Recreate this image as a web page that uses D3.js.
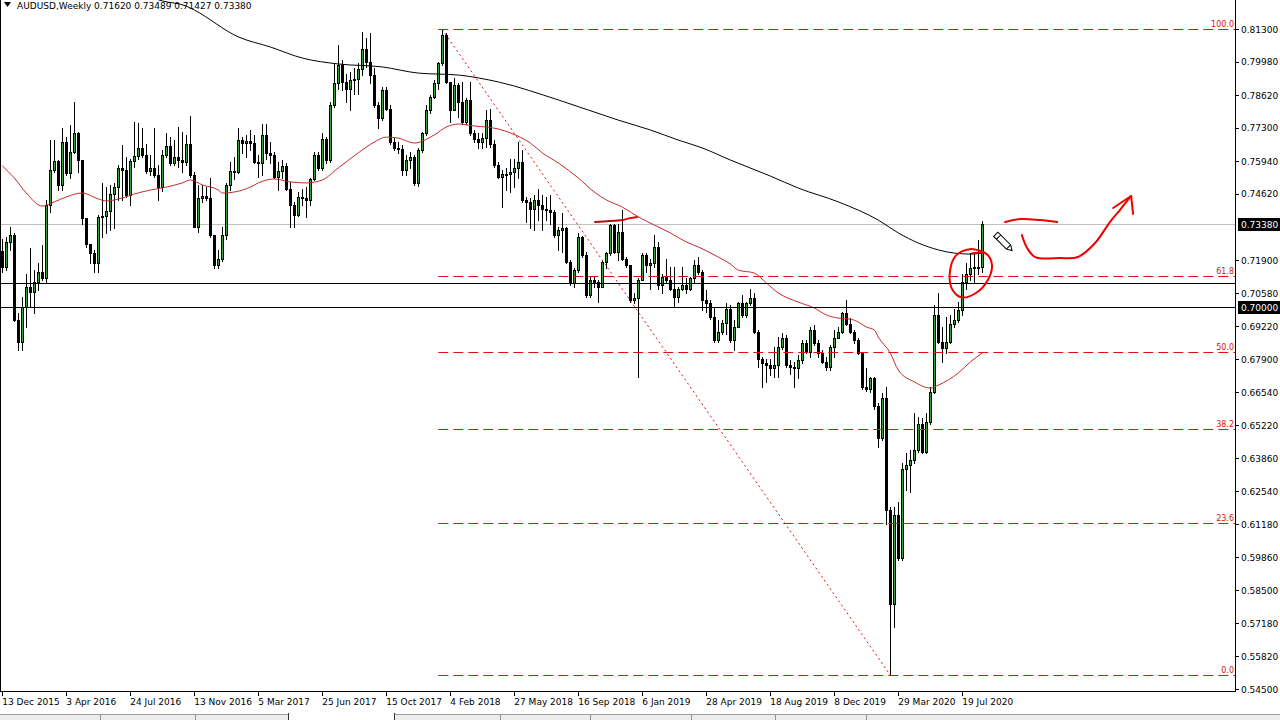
<!DOCTYPE html>
<html><head><meta charset="utf-8">
<script src="https://cdn.jsdelivr.net/npm/d3@7"></script>
<style>
html,body{margin:0;padding:0;background:#fff;overflow:hidden}
svg{display:block;font-family:"DejaVu Sans",sans-serif}
</style></head><body>
<svg id="c" width="1280" height="720"></svg>
<script>
const symbol = "AUDUSD,Weekly";
const headerValues = ["0.71620","0.73489","0.71427","0.73380"];

const open = [.7230,.7164,.7266,.7293,.6948,.6860,.7002,.7083,.7063,.7104,
.7144,.7117,.7415,.7557,.7595,.7496,.7672,.7544,.7632,.7706,
.7598,.7361,.7259,.7219,.7178,.7367,.7370,.7392,.7462,.7489,
.7564,.7556,.7456,.7595,.7614,.7645,.7618,.7553,.7564,.7537,
.7489,.7618,.7655,.7584,.7611,.7598,.7591,.7665,.7537,.7327,
.7442,.7451,.7445,.7293,.7171,.7196,.7293,.7496,.7553,.7549,
.7679,.7668,.7676,.7668,.7591,.7584,.7699,.7625,.7620,.7530,
.7555,.7575,.7482,.7415,.7374,.7448,.7444,.7435,.7519,.7618,
.7564,.7685,.7597,.7821,.7909,.7983,.7916,.7888,.7922,.7925,
.7966,.8047,.7997,.7943,.7821,.7767,.7882,.7807,.7672,.7645,
.7641,.7557,.7600,.7611,.7503,.7638,.7706,.7800,.7855,.7909,
.7990,.8105,.7916,.7800,.7902,.7834,.7753,.7841,.7706,.7685,
.7672,.7689,.7760,.7665,.7578,.7530,.7540,.7543,.7550,.7564,
.7591,.7435,.7428,.7401,.7435,.7415,.7401,.7394,.7388,.7293,
.7313,.7320,.7185,.7097,.7151,.7286,.7212,.7050,.7110,.7104,
.7083,.7185,.7219,.7334,.7226,.7307,.7198,.7171,.7029,.7036,
.7110,.7212,.7171,.7178,.7246,.7090,.7124,.7110,.7076,.7043,
.7076,.7090,.7076,.7117,.7171,.7144,.7029,.7018,.6961,.6866,
.6900,.6935,.6995,.6867,.6921,.7016,.6968,.7016,.7036,.6900,
.6792,.6772,.6765,.6752,.6765,.6840,.6874,.6765,.6758,.6752,
.6785,.6853,.6819,.6907,.6853,.6813,.6779,.6758,.6840,.6874,
.6901,.6975,.6934,.6901,.6867,.6813,.6677,.6670,.6711,.6600,
.6470,.6630,.6176,.5797,.6156,.5980,.6345,.6359,.6380,.6420,
.6528,.6413,.6535,.6657,.6968,.6860,.6833,.6860,.6934,.6948,
.6988,.7104,.7137,.7158,.7164,.7162];

const close = [.7164,.7266,.7293,.6948,.6860,.7002,.7083,.7063,.7104,.7144,
.7117,.7415,.7557,.7595,.7496,.7672,.7544,.7632,.7706,.7598,
.7361,.7259,.7219,.7178,.7367,.7370,.7392,.7462,.7489,.7564,
.7556,.7456,.7595,.7614,.7645,.7618,.7553,.7564,.7537,.7489,
.7618,.7655,.7584,.7611,.7598,.7591,.7665,.7537,.7327,.7442,
.7451,.7445,.7293,.7171,.7196,.7293,.7496,.7553,.7549,.7679,
.7668,.7676,.7668,.7591,.7584,.7699,.7625,.7620,.7530,.7555,
.7575,.7482,.7415,.7374,.7448,.7444,.7435,.7519,.7618,.7564,
.7685,.7597,.7821,.7909,.7983,.7916,.7888,.7922,.7925,.7966,
.8047,.7997,.7943,.7821,.7767,.7882,.7807,.7672,.7645,.7641,
.7557,.7600,.7611,.7503,.7638,.7706,.7800,.7855,.7909,.7990,
.8105,.7916,.7800,.7902,.7834,.7753,.7841,.7706,.7685,.7672,
.7689,.7760,.7665,.7578,.7530,.7540,.7543,.7550,.7564,.7591,
.7435,.7428,.7401,.7435,.7415,.7401,.7394,.7388,.7293,.7313,
.7320,.7185,.7097,.7151,.7286,.7212,.7050,.7110,.7104,.7083,
.7185,.7219,.7334,.7226,.7307,.7198,.7171,.7029,.7036,.7110,
.7212,.7171,.7178,.7246,.7090,.7124,.7110,.7076,.7043,.7076,
.7090,.7076,.7117,.7171,.7144,.7029,.7018,.6961,.6866,.6900,
.6935,.6995,.6867,.6921,.7016,.6968,.7016,.7036,.6900,.6792,
.6772,.6765,.6752,.6765,.6840,.6874,.6765,.6758,.6752,.6785,
.6853,.6819,.6907,.6853,.6813,.6779,.6758,.6840,.6874,.6901,
.6975,.6934,.6901,.6867,.6813,.6677,.6670,.6711,.6600,.6470,
.6630,.6176,.5797,.6156,.5980,.6345,.6359,.6380,.6420,.6528,
.6413,.6535,.6657,.6968,.6860,.6833,.6860,.6934,.6948,.6988,
.7104,.7137,.7158,.7164,.7162,.7338];

const high = [.7279,.7286,.7327,.7300,.6975,.7043,.7137,.7239,.7151,.7178,
.7252,.7435,.7679,.7679,.7598,.7726,.7692,.7740,.7835,.7713,
.7598,.7361,.7259,.7232,.7374,.7503,.7489,.7496,.7503,.7577,
.7659,.7611,.7604,.7753,.7747,.7726,.7665,.7618,.7730,.7577,
.7638,.7709,.7692,.7679,.7733,.7713,.7699,.7776,.7550,.7496,
.7496,.7489,.7523,.7293,.7232,.7327,.7503,.7591,.7611,.7726,
.7692,.7699,.7720,.7699,.7618,.7746,.7746,.7672,.7631,.7591,
.7597,.7584,.7509,.7428,.7469,.7482,.7489,.7523,.7631,.7631,
.7706,.7692,.7834,.7990,.8064,.8004,.7949,.7956,.7970,.7990,
.8119,.8092,.8112,.7970,.7834,.7895,.7895,.7821,.7692,.7672,
.7658,.7618,.7631,.7620,.7645,.7712,.7821,.7861,.7922,.7997,
.8128,.8115,.7916,.7929,.7909,.7916,.7848,.7916,.7719,.7706,
.7706,.7800,.7807,.7679,.7591,.7557,.7564,.7604,.7604,.7672,
.7638,.7449,.7442,.7455,.7482,.7455,.7448,.7455,.7395,.7327,
.7381,.7327,.7192,.7158,.7300,.7290,.7226,.7124,.7124,.7110,
.7192,.7226,.7340,.7340,.7340,.7394,.7205,.7171,.7056,.7117,
.7219,.7219,.7198,.7293,.7266,.7137,.7198,.7165,.7165,.7083,
.7164,.7117,.7124,.7192,.7205,.7151,.7070,.7030,.7002,.6948,
.6948,.7016,.7009,.6948,.7022,.7049,.7022,.7076,.7056,.6907,
.6799,.6792,.6792,.6840,.6880,.6894,.6887,.6785,.6779,.6806,
.6867,.6867,.6921,.6928,.6867,.6826,.6799,.6846,.6907,.6921,
.6982,.7029,.6955,.6907,.6874,.6820,.6752,.6718,.6718,.6610,
.6650,.6677,.6190,.6190,.6210,.6366,.6407,.6420,.6569,.6556,
.6549,.6569,.6677,.7009,.7056,.6921,.6961,.6968,.6995,.7022,
.7137,.7178,.7219,.7219,.7273,.7349];

const low = [.7144,.7151,.7232,.6945,.6826,.6826,.6921,.7002,.6975,.7070,
.7110,.7104,.7388,.7550,.7476,.7476,.7537,.7523,.7625,.7550,
.7340,.7246,.7178,.7144,.7144,.7286,.7300,.7313,.7320,.7435,
.7435,.7449,.7415,.7571,.7604,.7611,.7544,.7537,.7527,.7435,
.7473,.7611,.7577,.7577,.7571,.7550,.7577,.7530,.7324,.7307,
.7428,.7435,.7286,.7158,.7160,.7189,.7279,.7476,.7519,.7544,
.7625,.7611,.7640,.7585,.7530,.7536,.7604,.7584,.7525,.7476,
.7523,.7476,.7327,.7327,.7370,.7417,.7367,.7415,.7515,.7557,
.7557,.7584,.7591,.7814,.7888,.7882,.7834,.7800,.7868,.7868,
.7943,.7976,.7909,.7814,.7726,.7760,.7800,.7665,.7638,.7625,
.7536,.7536,.7564,.7496,.7492,.7631,.7699,.7787,.7848,.7888,
.7983,.7909,.7753,.7800,.7773,.7746,.7746,.7700,.7672,.7645,
.7645,.7652,.7652,.7570,.7523,.7408,.7476,.7469,.7489,.7523,
.7428,.7347,.7320,.7313,.7354,.7313,.7354,.7340,.7286,.7232,
.7225,.7178,.7090,.7083,.7144,.7205,.7043,.7043,.7083,.7023,
.7083,.7158,.7212,.7219,.7192,.7192,.7165,.7023,.7016,.6718,
.7110,.7144,.7076,.7164,.7076,.7056,.7100,.7069,.7002,.7023,
.7070,.7056,.7070,.7097,.7137,.6988,.6981,.6954,.6860,.6860,
.6893,.6893,.6860,.6826,.6921,.6961,.6961,.7009,.6895,.6758,
.6677,.6697,.6724,.6718,.6718,.6830,.6758,.6731,.6677,.6711,
.6772,.6813,.6799,.6846,.6799,.6772,.6745,.6745,.6799,.6874,
.6894,.6928,.6894,.6853,.6810,.6670,.6660,.6657,.6586,.6434,
.6461,.6122,.5506,.5703,.5973,.5973,.6258,.6251,.6366,.6413,
.6407,.6407,.6528,.6650,.6853,.6779,.6813,.6853,.6921,.6941,
.6968,.7076,.7110,.7097,.7137,.7143];

const dateTickIndex = [0,16,32,48,64,80,96,112,128,144,160,176,192,208,224,240];
const dateTickLabels = ["13 Dec 2015","3 Apr 2016","24 Jul 2016","13 Nov 2016","5 Mar 2017","25 Jun 2017","15 Oct 2017","4 Feb 2018","27 May 2018","16 Sep 2018","6 Jan 2019","28 Apr 2019","18 Aug 2019","8 Dec 2019","29 Mar 2020","19 Jul 2020"];
const priceTicks = [0.8130,0.7998,0.7862,0.7730,0.7594,0.7462,0.7190,0.7058,0.6922,0.6790,0.6654,0.6522,0.6386,0.6254,0.6118,0.5986,0.5850,0.5718,0.5582,0.5450];

const redIdx = [0,3,6,10,13,16,20,24,26,30,33,37,41,45,47,50,54,55,58,62,64,68,72,76,80,84,89,93,96,99,103,108,111,114,118,121,124,127,132,135,139,144,148,151,155,159,163,167,171,174,179,182,184,188,191,194,199,203,206,209,212,214,216,218,219,222,224,228,232,234,239,242,245];
const redMA = [.7574,.7525,.7464,.7411,.7428,.7448,.7464,.7440,.7432,.7444,.7460,.7476,.7488,.7505,.7517,.7497,.7476,.7464,.7468,.7488,.7505,.7521,.7509,.7505,.7517,.7566,.7627,.7671,.7691,.7687,.7667,.7700,.7732,.7744,.7736,.7732,.7724,.7708,.7667,.7627,.7586,.7525,.7468,.7436,.7407,.7367,.7334,.7302,.7265,.7245,.7204,.7176,.7151,.7139,.7099,.7058,.7021,.6997,.6969,.6956,.6952,.6940,.6920,.6908,.6879,.6814,.6745,.6697,.6672,.6684,.6733,.6778,.6814];
const blackIdx = [32,40,46,48,59,67,75,84,95,104,114,124,139,154,162,169,175,182,192,199,209,219,224,229,234,238,242,245];
const blackMA = [.8288,.8244,.8223,.8207,.8098,.8057,.8012,.7988,.7976,.7951,.7943,.7915,.7842,.7760,.7720,.7679,.7647,.7598,.7533,.7484,.7428,.7354,.7302,.7261,.7233,.7220,.7216,.7220];

const fibLabels = ["100.0","61.8","50.0","38.2","23.6","0.0"];
const fibRatios = [1.0,0.618,0.5,0.382,0.236,0.0];
const fibHigh = 0.8128, fibLow = 0.5506;
const fibHighIndex = 110, fibLowIndex = 222, fibStartIndex = 109;
const levelLines = [0.7100, 0.7000];
const currentPrice = 0.7338;
const boxedPrices = [["0.73380",0.7338],["0.70000",0.7000]];

// hand-drawn annotations in (index, price)
const circleNote = [[245.7,.7222],[241.9,.7236],[238.4,.7210],[236.9,.7143],[237.5,.7072],[239.9,.7040],[243.4,.7058],[246.4,.7111],[247.4,.7174],[245.9,.7218],[242.4,.7218]];
const dashNote = [[250.7,.7346],[254.4,.7358],[259.4,.7354],[263.7,.7346]];
const hookNote = [[254.9,.7293],[256.2,.7241],[258.2,.7204],[264.4,.7200],[268.9,.7204],[273.2,.7261],[276.9,.7346],[279.4,.7395],[282.2,.7452]];
const arrowHead = [[277.7,.7403],[282.2,.7452],[282.7,.7379]];
const resNote = [[148.2,.7346],[151.9,.7350],[155.2,.7354],[156.9,.7362],[158.7,.7367]];

const svg = d3.select("#c");
const plotR = 1235, plotB = 691;
const x = d3.scaleLinear().domain([0,245]).range([2.3,982.3]);
const y = d3.scaleLinear().domain([0.545,0.813]).range([689,29]);

svg.append("rect").attr("width",1280).attr("height",720).attr("fill","#fff");
svg.append("clipPath").attr("id","pc").append("rect").attr("x",0).attr("y",0).attr("width",plotR).attr("height",plotB);
const plot = svg.append("g").attr("clip-path","url(#pc)");

const cy = v => Math.round(y(v)) + 0.5;

// current price line
plot.append("line").attr("x1",0).attr("x2",plotR).attr("y1",cy(currentPrice)).attr("y2",cy(currentPrice)).attr("stroke","#c0c0c0");

// candles
const bull = "#3c9e3c";
const cdata = d3.range(close.length).map(i=>({i,o:open[i],h:high[i],l:low[i],c:close[i]}));
const cg = plot.append("g").attr("shape-rendering","crispEdges");
const cs = cg.selectAll("g").data(cdata).join("g");
cs.append("line")
  .attr("x1",d=>Math.round(x(d.i))+0.5).attr("x2",d=>Math.round(x(d.i))+0.5)
  .attr("y1",d=>Math.round(y(d.h))).attr("y2",d=>Math.round(y(d.l))+1)
  .attr("stroke","#000");
cs.append("rect")
  .attr("x",d=>Math.round(x(d.i))-0.5)
  .attr("y",d=>Math.round(y(Math.max(d.o,d.c)))+0.5)
  .attr("width",2)
  .attr("height",d=>Math.max(1,Math.round(y(Math.min(d.o,d.c)))-Math.round(y(Math.max(d.o,d.c)))))
  .attr("fill",d=>d.c>=d.o?bull:"#000")
  .attr("stroke","#000");

// moving averages
const lineGen = d3.line().x(d=>x(d[0])).y(d=>y(d[1])).curve(d3.curveMonotoneX);
plot.append("path").attr("d",lineGen(redIdx.map((v,k)=>[v,redMA[k]]))).attr("fill","none").attr("stroke","#c8282a").attr("stroke-width",1);
plot.append("path").attr("d",lineGen(blackIdx.map((v,k)=>[v,blackMA[k]]))).attr("fill","none").attr("stroke","#000").attr("stroke-width",1);

// horizontal level lines
plot.selectAll("line.lv").data(levelLines).join("line").attr("class","lv")
  .attr("x1",0).attr("x2",plotR).attr("y1",d=>cy(d)).attr("y2",d=>cy(d)).attr("stroke","#000");

// fibonacci
const fibColor = "#e01010";
const fibVals = fibRatios.map(r=>fibLow + r*(fibHigh-fibLow));
plot.selectAll("line.fib").data(fibVals).join("line").attr("class","fib")
  .attr("x1",x(fibStartIndex)).attr("x2",plotR).attr("y1",d=>cy(d)).attr("y2",d=>cy(d))
  .attr("stroke",fibColor).attr("stroke-dasharray","10,5");
plot.selectAll("text.fib").data(fibVals).join("text").attr("class","fib")
  .attr("x",plotR-1).attr("y",d=>cy(d)-2.5).attr("text-anchor","end")
  .attr("font-size",8).attr("fill",fibColor).text((d,k)=>fibLabels[k]);
plot.append("line").attr("x1",x(fibHighIndex)).attr("y1",y(fibHigh)).attr("x2",x(fibLowIndex)).attr("y2",y(fibLow))
  .attr("stroke",fibColor).attr("stroke-dasharray","2,3");

// hand drawn annotations
const noteLine = d3.line().x(d=>x(d[0])).y(d=>y(d[1])).curve(d3.curveCatmullRom);
const noteStyle = s => s.attr("fill","none").attr("stroke","#f00000").attr("stroke-width",2).attr("stroke-linecap","round").attr("stroke-linejoin","round");
svg.append("path").attr("d",noteLine(circleNote)).call(noteStyle);
svg.append("path").attr("d",noteLine(dashNote)).call(noteStyle);
svg.append("path").attr("d",noteLine(hookNote)).call(noteStyle);
svg.append("path").attr("d",d3.line().x(d=>x(d[0])).y(d=>y(d[1]))(arrowHead)).call(noteStyle);
svg.append("path").attr("d",noteLine(resNote.slice(0,3))).call(noteStyle).attr("stroke","#b01010");
svg.append("path").attr("d",noteLine(resNote.slice(2))).call(noteStyle);

// pencil cursor near annotation
const pen = svg.append("g").attr("transform",`translate(${x(250.5)},${y(.7262)}) rotate(-45)`);
pen.append("path").attr("d","M-3,-12 L3,-12 L3,6 L0,11 L-3,6 Z").attr("fill","#fff").attr("stroke","#000").attr("stroke-width",1);
pen.append("line").attr("x1",-3).attr("x2",3).attr("y1",-8).attr("y2",-8).attr("stroke","#000");
pen.append("line").attr("x1",-3).attr("x2",3).attr("y1",6).attr("y2",6).attr("stroke","#000");

// frame
const fr = svg.append("g").attr("shape-rendering","crispEdges");
fr.append("line").attr("x1",0.5).attr("x2",0.5).attr("y1",0).attr("y2",plotB).attr("stroke","#000");
fr.append("line").attr("x1",plotR+0.5).attr("x2",plotR+0.5).attr("y1",0).attr("y2",plotB+1).attr("stroke","#000");
fr.append("line").attr("x1",0).attr("x2",plotR+1).attr("y1",plotB+0.5).attr("y2",plotB+0.5).attr("stroke","#000");

// right price axis
const pa = svg.append("g");
pa.selectAll("line").data(priceTicks).join("line")
  .attr("x1",plotR).attr("x2",plotR+4).attr("y1",d=>cy(d)).attr("y2",d=>cy(d)).attr("stroke","#000").attr("shape-rendering","crispEdges");
pa.selectAll("text").data(priceTicks).join("text")
  .attr("x",plotR+6).attr("y",d=>y(d)+3.5).attr("font-size",9).attr("fill","#000")
  .text(d=>d.toFixed(5));
boxedPrices.forEach(([t,v])=>{
  svg.append("rect").attr("x",plotR+3).attr("y",Math.round(y(v))-6).attr("width",1280-plotR-3).attr("height",13).attr("fill","#000");
  svg.append("text").attr("x",plotR+6).attr("y",y(v)+3.5).attr("font-size",9).attr("fill","#fff").text(t);
});

// bottom date axis
const da = svg.append("g");
da.selectAll("line").data(dateTickIndex).join("line")
  .attr("x1",d=>Math.round(x(d))+0.5).attr("x2",d=>Math.round(x(d))+0.5).attr("y1",plotB).attr("y2",plotB+5).attr("stroke","#000");
da.selectAll("text").data(dateTickIndex).join("text")
  .attr("x",d=>x(d)).attr("y",705).attr("font-size",9).attr("fill","#000")
  .text((d,k)=>dateTickLabels[k]);

// header
svg.append("path").attr("d","M4,2 L11,2 L7.5,7 Z").attr("fill","#000");
svg.append("text").attr("x",17).attr("y",9).attr("font-size",9).attr("fill","#000")
  .text(symbol + "  " + headerValues.join(" "));

// bottom tab strip
const tb = svg.append("g").attr("shape-rendering","crispEdges");
tb.append("rect").attr("x",0).attr("y",714).attr("width",1280).attr("height",6).attr("fill","#ececec");
tb.append("line").attr("x1",0).attr("x2",1280).attr("y1",714.5).attr("y2",714.5).attr("stroke","#a0a0a0");
tb.append("rect").attr("x",288).attr("y",713).attr("width",106).attr("height",7).attr("fill","#fff");
[288,394].forEach(v=>tb.append("line").attr("x1",v+0.5).attr("x2",v+0.5).attr("y1",713).attr("y2",720).attr("stroke","#333"));
[100,195,500,590,691,775,866].forEach(v=>tb.append("line").attr("x1",v+0.5).attr("x2",v+0.5).attr("y1",715).attr("y2",720).attr("stroke","#909090"));
</script>
</body></html>
